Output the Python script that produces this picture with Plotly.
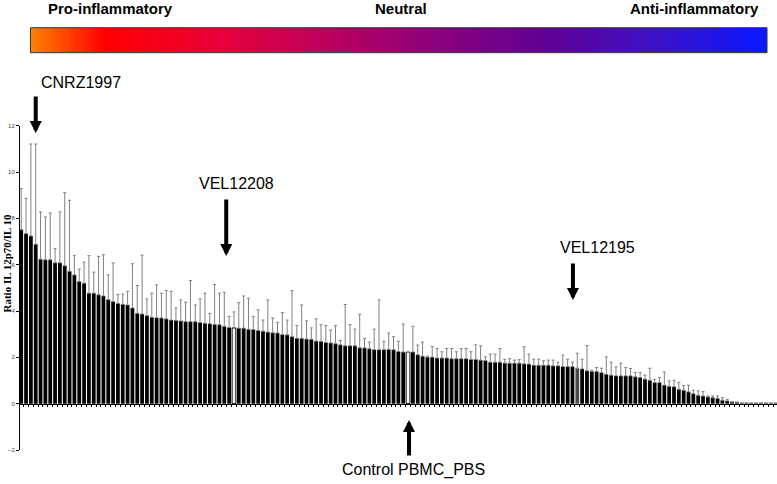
import plotly.graph_objects as go
import numpy as np

# mean ratio IL12p70/IL10 for each strain, sorted as in the figure
ratio = [7.51, 7.34, 7.24, 6.88, 6.24, 6.21, 6.21, 6.08, 6.08, 5.95,
         5.72, 5.56, 5.27, 5.20, 4.77, 4.77, 4.70, 4.65, 4.49, 4.41,
         4.33, 4.29, 4.26, 4.13, 3.90, 3.87, 3.80, 3.73, 3.71, 3.70,
         3.66, 3.61, 3.59, 3.57, 3.54, 3.54, 3.54, 3.50, 3.47, 3.45,
         3.42, 3.41, 3.34, 3.29, 3.27, 3.26, 3.26, 3.21, 3.20, 3.16,
         3.13, 3.09, 3.06, 3.05, 2.98, 2.97, 2.89, 2.82, 2.82, 2.79,
         2.78, 2.70, 2.69, 2.64, 2.62, 2.59, 2.54, 2.50, 2.50, 2.50,
         2.41, 2.41, 2.37, 2.33, 2.33, 2.33, 2.34, 2.33, 2.25, 2.23,
         2.22, 2.23, 2.11, 2.05, 2.01, 2.01, 1.97, 1.97, 1.97, 1.94,
         1.94, 1.94, 1.94, 1.91, 1.91, 1.88, 1.86, 1.79, 1.79, 1.79,
         1.75, 1.75, 1.75, 1.75, 1.72, 1.71, 1.66, 1.66, 1.66, 1.66,
         1.63, 1.63, 1.60, 1.60, 1.60, 1.53, 1.50, 1.42, 1.39, 1.39,
         1.34, 1.27, 1.23, 1.20, 1.20, 1.20, 1.20, 1.16, 1.13, 1.06,
         1.01, 0.91, 0.91, 0.80, 0.75, 0.73, 0.62, 0.58, 0.51, 0.43,
         0.36, 0.33, 0.29, 0.26, 0.23, 0.15, 0.12, 0.07, 0.05, 0.02,
         0.02, 0.01, 0.01, 0.01, 0.01, 0.01, 0.01]

# standard deviation (upper error bar)
sd = [1.78, 1.52, 3.97, 4.33, 2.04, 1.85, 2.02, 0.61, 2.20, 3.16,
      3.06, 0.83, 0.54, 0.91, 1.62, 0.91, 1.66, 1.78, 1.07, 1.67,
      0.38, 0.44, 0.59, 1.91, 1.20, 2.54, 0.72, 1.04, 1.42, 1.07,
      1.22, 1.24, 0.54, 0.91, 0.84, 1.78, 0.72, 1.02, 1.30, 0.45,
      1.72, 1.36, 1.47, 0.48, 0.69, 1.10, 1.39, 1.34, 0.57, 0.89,
      0.48, 1.39, 0.64, 0.46, 0.95, 0.64, 1.99, 0.55, 1.44, 0.78,
      0.49, 0.96, 0.72, 0.73, 0.56, 0.78, 0.18, 1.78, 0.91, 0.72,
      1.45, 0.41, 0.29, 0.89, 2.15, 0.36, 0.71, 0.56, 0.44, 1.21,
      0.00, 1.11, 0.42, 0.61, 0.04, 0.45, 0.41, 0.27, 0.41, 0.44,
      0.30, 0.44, 0.44, 0.33, 0.63, 0.62, 0.16, 0.35, 0.35, 0.59,
      0.17, 0.19, 0.13, 0.15, 0.74, 0.43, 0.26, 0.26, 0.19, 0.22,
      0.25, 0.16, 0.50, 0.32, 0.19, 0.65, 0.42, 1.08, 0.05, 0.17,
      0.19, 0.75, 0.56, 0.39, 0.55, 0.36, 0.32, 0.19, 0.22, 0.17,
      0.52, 0.14, 0.22, 0.57, 0.23, 0.28, 0.30, 0.20, 0.29, 0.15,
      0.19, 0.19, 0.04, 0.07, 0.10, 0.11, 0.07, 0.00, 0.00, 0.00,
      0.00, 0.00, 0.00, 0.00, 0.00, 0.00, 0.00]

strain_pos = list(range(len(ratio)))

# highlighted strains (index in sorted order)
control_idx = 80
vel12208_idx = 44
vel12195_idx = 115

scale_labels = ["Pro-inflammatory", "Neutral", "Anti-inflammatory"]

colors = ["black"] * len(ratio)
line_w = [0] * len(ratio)
colors[control_idx] = "white"
line_w[control_idx] = 1
colors[vel12208_idx] = "#f2f2f2"
line_w[vel12208_idx] = 1
colors[vel12195_idx] = "#4a4a4a"

W, H = 777, 484
L, R, T, B = 19.5, 0, 20, 34
pw, ph = W - L - R, H - T - B


def px(x):
    # pixel x -> paper fraction
    return (x - L) / pw


def py(y):
    # pixel y (from top) -> paper fraction
    return (H - B - y) / ph


fig = go.Figure()

fig.add_trace(go.Bar(
    x=strain_pos, y=ratio,
    marker=dict(color=colors, line=dict(color="black", width=line_w)),
    error_y=dict(type="data", array=sd, arrayminus=[0] * len(sd), symmetric=False,
                 color="#808080", thickness=1, width=1.5),
    showlegend=False,
))

# colour scale bar at the top
ramp = np.linspace(0, 1, 300)
fig.add_trace(go.Heatmap(
    z=[ramp], xaxis="x2", yaxis="y2", showscale=False, hoverinfo="skip",
    colorscale=[[0, "#ff8000"], [0.1, "#ff0000"], [0.25, "#ea0036"],
                [0.4, "#bc005c"], [0.55, "#8c007c"], [0.7, "#600094"],
                [0.85, "#3c12c8"], [1, "#0a18ff"]],
))

ydom_top = py(125.7)
fig.update_layout(
    width=W, height=H,
    margin=dict(l=L, r=R, t=T, b=B, autoexpand=False),
    paper_bgcolor="white", plot_bgcolor="white",
    bargap=0.22,
    font=dict(family="Liberation Sans, Arial", color="black"),
    xaxis=dict(range=[-0.25, 156.3], anchor="free", position=ydom_top * 2 / 14,
               showline=True, linecolor="black", linewidth=1,
               ticks="outside", tickmode="linear", tick0=0.5, dtick=1,
               ticklen=2, tickcolor="black", showticklabels=False,
               showgrid=False, zeroline=False, automargin=False),
    yaxis=dict(domain=[0, ydom_top], range=[-2, 12], tickmode="linear", tick0=-2, dtick=2,
               showline=True, linecolor="black", linewidth=1,
               ticks="outside", ticklen=3, tickcolor="black",
               tickfont=dict(size=6, color="#444"),
               showgrid=False, zeroline=False, automargin=False),
    xaxis2=dict(domain=[px(30), px(767)], anchor="y2", visible=False),
    yaxis2=dict(domain=[py(52.7), py(27.7)], anchor="x2", visible=False),
)

fig.add_shape(type="rect", xref="x2 domain", yref="y2 domain", x0=0, x1=1, y0=0, y1=1,
              line=dict(color="#333", width=1))

for txt, cx in zip(scale_labels, [110, 401, 694]):
    fig.add_annotation(text="<b>%s</b>" % txt, xref="paper", yref="paper",
                       x=px(cx), y=py(8), xanchor="center", yanchor="middle",
                       showarrow=False, font=dict(size=15))

fig.add_annotation(text="<b>Ratio IL 12p70/IL 10</b>", xref="paper", yref="paper",
                   x=px(6), y=py(263), xanchor="center", yanchor="middle",
                   textangle=-90, showarrow=False,
                   font=dict(family="Liberation Serif, Times New Roman", size=11))

labels = [("CNRZ1997", 81, 82), ("VEL12208", 236, 183),
          ("VEL12195", 597, 247), ("Control PBMC_PBS", 413, 470)]
for txt, cx, cy in labels:
    fig.add_annotation(text=txt, xref="paper", yref="paper", x=px(cx), y=py(cy),
                       xanchor="center", yanchor="middle",
                       showarrow=False, font=dict(size=16))

arrows = [(3, 133, -38), (42.4, 256, -58), (114.1, 300, -38), (80.2, 420, 37)]
for xi, head_y, ay in arrows:
    fig.add_annotation(text="", xref="x", yref="paper", x=xi, y=py(head_y),
                       showarrow=True, ax=0, ay=ay, arrowhead=2, arrowsize=0.6,
                       arrowwidth=4, arrowcolor="black")

# drop the default page margin so the figure fills the window
fig.write_html("out.html", config={"displayModeBar": False},
               post_script="document.body.style.margin='0';")
